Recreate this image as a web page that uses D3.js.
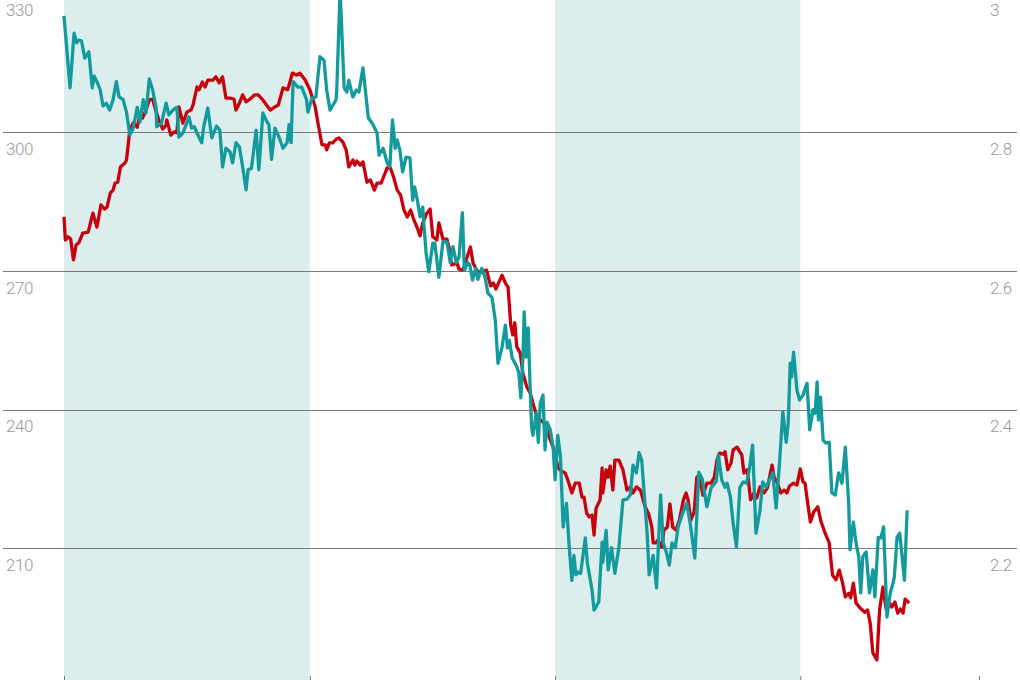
<!DOCTYPE html>
<html><head><meta charset="utf-8">
<script src="https://cdn.jsdelivr.net/npm/d3@7"></script>
<style>body{margin:0;background:#fff}svg{display:block}</style>
</head><body><svg id="chart" width="1020" height="680"></svg>
<script>
// x positions are day offsets from the series start date
const seriesStart = "2012-01-01";
const xDomain = ["2012-01-01", "2015-09-24"];
const xTickDates = ["2012-01-01", "2013-01-01", "2014-01-01", "2015-01-01", "2015-09-24"];
const bandPeriods = [["2012-01-01", "2013-01-01"], ["2014-01-01", "2015-01-01"]];
const leftTicks = [210, 240, 270, 300, 330];
const rightTicks = [2.2, 2.4, 2.6, 2.8, 3];

// red series, left axis: [day offset, value]
const redSeries = [[0,281.7],[2,276.7],[6,277.4],[10,276.9],[14,272.4],[18,275.6],[22,276.1],[28,278.2],[36,278.4],[43,282.5],[49,279.5],[55,284.3],[60,283.4],[64,283.8],[69,286.9],[73,287.5],[76,289.0],[80,289.2],[84,292.5],[91,293.4],[93,294.0],[98,300.5],[103,302.0],[109,301.1],[113,303.7],[117,303.1],[122,304.8],[127,307.0],[132,307.2],[135,305.5],[141,302.7],[147,300.7],[152,301.6],[153,302.7],[159,299.4],[164,300.1],[168,299.9],[171,305.5],[177,302.0],[183,304.4],[189,304.8],[192,305.9],[198,309.8],[201,309.2],[206,310.9],[210,309.8],[214,311.3],[222,311.3],[226,312.0],[231,310.7],[236,312.0],[241,307.4],[247,307.4],[253,307.2],[256,304.8],[261,306.3],[266,308.1],[271,306.6],[277,307.2],[284,308.1],[289,308.1],[296,307.0],[307,304.8],[314,305.5],[319,305.9],[326,309.6],[333,309.2],[340,312.8],[346,312.4],[351,312.8],[359,311.3],[366,309.2],[374,305.5],[378,302.0],[384,297.3],[389,297.3],[391,296.2],[395,297.7],[400,297.7],[405,298.5],[409,298.8],[415,297.9],[420,296.2],[424,292.5],[430,294.0],[433,292.9],[436,293.8],[441,292.9],[445,293.6],[451,289.2],[456,289.7],[462,287.5],[466,289.0],[472,289.0],[478,291.2],[481,292.3],[486,292.3],[491,290.1],[496,287.5],[501,286.4],[506,283.2],[511,281.7],[516,283.2],[521,281.0],[526,279.3],[530,277.6],[534,280.4],[540,282.5],[545,283.4],[549,277.4],[555,276.7],[558,280.4],[564,276.9],[570,276.9],[573,275.2],[577,271.3],[585,271.7],[588,270.4],[594,270.2],[600,273.0],[605,275.2],[609,271.7],[614,270.2],[619,269.6],[624,270.0],[629,270.2],[635,266.8],[639,267.4],[643,266.1],[652,269.1],[657,267.4],[661,266.5],[665,258.3],[668,256.2],[671,258.8],[674,253.6],[679,252.3],[683,247.9],[689,244.9],[694,243.6],[698,241.4],[704,238.4],[709,237.8],[715,237.1],[719,235.6],[724,233.4],[728,231.9],[732,229.8],[735,227.6],[738,227.0],[746,226.3],[750,224.8],[756,222.0],[761,224.1],[767,224.1],[771,221.1],[774,221.1],[778,217.6],[782,216.8],[786,217.2],[789,212.9],[792,218.7],[798,220.5],[801,227.4],[802,222.0],[807,227.0],[810,225.4],[813,227.8],[817,222.6],[820,229.1],[826,229.1],[832,227.0],[838,222.6],[843,223.3],[847,222.0],[852,223.3],[858,222.6],[865,219.0],[870,217.6],[875,214.6],[877,211.2],[881,211.2],[884,211.8],[890,210.3],[893,214.0],[898,214.6],[902,219.6],[906,214.6],[911,214.0],[916,216.1],[922,220.5],[926,222.0],[929,220.5],[933,216.1],[938,217.9],[942,225.4],[946,225.9],[951,221.5],[957,224.1],[963,224.1],[968,225.4],[972,229.1],[976,230.6],[981,230.4],[984,230.9],[988,227.0],[993,228.5],[996,231.3],[1002,231.9],[1005,231.1],[1009,230.2],[1012,226.3],[1017,227.0],[1022,220.5],[1027,222.0],[1031,220.9],[1036,223.3],[1042,222.0],[1047,223.1],[1054,228.0],[1057,225.4],[1062,224.1],[1067,222.0],[1072,222.6],[1076,222.0],[1080,223.5],[1086,224.1],[1091,223.7],[1096,227.2],[1100,224.4],[1103,224.1],[1107,219.8],[1111,215.7],[1116,217.9],[1122,219.0],[1127,215.7],[1133,213.3],[1139,211.2],[1144,204.2],[1149,203.2],[1154,205.3],[1159,202.5],[1163,199.5],[1168,200.3],[1171,199.3],[1175,202.5],[1179,198.2],[1185,197.1],[1192,196.2],[1196,196.7],[1200,193.9],[1204,187.4],[1210,185.9],[1214,196.7],[1219,201.6],[1224,196.7],[1229,198.2],[1232,197.3],[1237,198.4],[1241,196.0],[1245,196.9],[1249,196.0],[1252,199.0],[1258,198.2]];

// teal series, right axis: [day offset, value]
const tealSeries = [[0,2.968],[9,2.864],[15,2.943],[19,2.929],[22,2.933],[26,2.932],[31,2.907],[37,2.916],[42,2.864],[45,2.881],[49,2.873],[54,2.861],[58,2.838],[63,2.842],[68,2.832],[73,2.847],[78,2.873],[82,2.851],[88,2.847],[93,2.829],[98,2.796],[103,2.806],[109,2.836],[113,2.815],[118,2.847],[122,2.828],[127,2.877],[132,2.861],[137,2.836],[138,2.808],[145,2.813],[152,2.842],[156,2.825],[162,2.832],[168,2.836],[171,2.793],[177,2.799],[186,2.822],[190,2.806],[194,2.808],[198,2.799],[205,2.785],[208,2.808],[214,2.835],[220,2.792],[227,2.809],[232,2.803],[236,2.750],[241,2.777],[247,2.772],[251,2.756],[256,2.785],[261,2.779],[266,2.750],[271,2.717],[274,2.746],[279,2.748],[286,2.803],[290,2.746],[296,2.828],[302,2.815],[305,2.811],[309,2.761],[314,2.806],[320,2.793],[326,2.777],[332,2.785],[335,2.811],[338,2.785],[341,2.873],[348,2.865],[354,2.865],[361,2.847],[363,2.829],[369,2.849],[375,2.851],[381,2.909],[387,2.904],[391,2.861],[396,2.832],[405,2.847],[406,2.861],[411,3.005],[417,2.864],[421,2.858],[424,2.875],[430,2.851],[435,2.861],[439,2.858],[445,2.893],[453,2.821],[460,2.811],[466,2.799],[469,2.767],[475,2.777],[481,2.756],[485,2.750],[489,2.818],[493,2.777],[496,2.789],[500,2.774],[504,2.743],[509,2.764],[515,2.763],[519,2.702],[522,2.721],[526,2.702],[530,2.678],[534,2.692],[536,2.663],[539,2.626],[543,2.599],[549,2.640],[552,2.640],[558,2.591],[564,2.642],[570,2.642],[575,2.612],[579,2.635],[584,2.612],[588,2.620],[593,2.684],[596,2.601],[601,2.612],[604,2.609],[608,2.587],[613,2.604],[616,2.588],[622,2.604],[627,2.590],[631,2.568],[637,2.562],[642,2.529],[646,2.467],[652,2.490],[657,2.522],[660,2.489],[663,2.500],[667,2.475],[674,2.462],[677,2.453],[680,2.417],[683,2.472],[685,2.541],[688,2.476],[691,2.518],[694,2.428],[696,2.375],[698,2.363],[703,2.395],[706,2.353],[709,2.410],[713,2.421],[716,2.342],[719,2.382],[724,2.371],[728,2.346],[731,2.299],[735,2.363],[739,2.332],[743,2.231],[748,2.265],[752,2.202],[756,2.154],[759,2.190],[762,2.162],[765,2.166],[769,2.164],[776,2.215],[779,2.179],[786,2.140],[789,2.111],[796,2.123],[801,2.209],[802,2.180],[807,2.226],[810,2.169],[815,2.201],[820,2.164],[826,2.202],[832,2.270],[838,2.271],[843,2.277],[847,2.320],[852,2.309],[856,2.338],[860,2.327],[864,2.274],[868,2.222],[871,2.162],[877,2.190],[882,2.143],[888,2.277],[892,2.208],[897,2.193],[901,2.176],[905,2.208],[910,2.201],[914,2.231],[921,2.251],[927,2.265],[932,2.237],[939,2.186],[945,2.310],[950,2.300],[957,2.260],[963,2.287],[971,2.297],[974,2.335],[979,2.299],[984,2.288],[987,2.294],[992,2.274],[996,2.237],[1001,2.202],[1006,2.288],[1011,2.296],[1016,2.294],[1020,2.313],[1025,2.349],[1030,2.222],[1036,2.255],[1040,2.296],[1045,2.288],[1050,2.299],[1055,2.309],[1060,2.258],[1065,2.323],[1070,2.397],[1075,2.353],[1078,2.381],[1081,2.467],[1083,2.447],[1086,2.483],[1091,2.428],[1095,2.414],[1100,2.421],[1106,2.438],[1110,2.371],[1115,2.400],[1118,2.395],[1121,2.440],[1123,2.385],[1126,2.418],[1130,2.356],[1134,2.352],[1139,2.353],[1143,2.280],[1148,2.277],[1153,2.309],[1158,2.294],[1163,2.346],[1168,2.265],[1170,2.198],[1175,2.238],[1179,2.208],[1183,2.188],[1186,2.136],[1189,2.188],[1194,2.195],[1199,2.136],[1204,2.169],[1207,2.130],[1212,2.216],[1216,2.215],[1220,2.231],[1225,2.101],[1230,2.136],[1234,2.150],[1236,2.159],[1240,2.216],[1244,2.222],[1251,2.154],[1255,2.255]];

const W = 1020, H = 680;
const DAY = 86400000;
const t0 = new Date(seriesStart).getTime();
const toDate = d => new Date(t0 + d * DAY);

const svg = d3.select("#chart");

const x = d3.scaleUtc()
  .domain(xDomain.map(s => new Date(s)))
  .range([64, 979]);
const yLeft = d3.scaleLinear().domain([210, 330]).range([548.4, -6.4]);
const yRight = d3.scaleLinear().domain([2.2, 3]).range([548.4, -6.4]);

// shaded periods
svg.append("g").selectAll("rect")
  .data(bandPeriods)
  .join("rect")
  .attr("x", d => x(new Date(d[0])))
  .attr("width", d => x(new Date(d[1])) - x(new Date(d[0])))
  .attr("y", 0)
  .attr("height", H)
  .attr("fill", "#dbeded");

// gridlines
svg.append("g").selectAll("line")
  .data(leftTicks)
  .join("line")
  .attr("x1", 3).attr("x2", 1017)
  .attr("y1", d => Math.round(yLeft(d)) + 0.5)
  .attr("y2", d => Math.round(yLeft(d)) + 0.5)
  .attr("stroke", "#7a7a7a")
  .attr("stroke-width", 1);

const labelFont = "Roboto, 'Open Sans', sans-serif";

// left axis labels
svg.append("g").selectAll("text")
  .data(leftTicks)
  .join("text")
  .attr("x", 6)
  .attr("y", d => yLeft(d) + 22.5)
  .attr("font-family", labelFont)
  .attr("font-weight", 300)
  .attr("font-size", 17)
  .attr("letter-spacing", -0.4)
  .attr("fill", "#999")
  .text(d => d3.format("d")(d));

// right axis labels
svg.append("g").selectAll("text")
  .data(rightTicks)
  .join("text")
  .attr("x", 990)
  .attr("y", d => yRight(d) + 22.5)
  .attr("font-family", labelFont)
  .attr("font-weight", 300)
  .attr("font-size", 17)
  .attr("letter-spacing", -0.4)
  .attr("fill", "#999")
  .text(d => d3.format("~g")(d));

// bottom ticks
const xAxis = d3.axisBottom(x)
  .tickValues(xTickDates.map(s => new Date(s)))
  .tickSize(-4)
  .tickFormat("");
const gx = svg.append("g").attr("transform", `translate(0,${H})`).call(xAxis);
gx.select(".domain").remove();
gx.selectAll(".tick line").attr("stroke", "#777");

// lines
const redLine = d3.line()
  .x(d => x(toDate(d[0])))
  .y(d => yLeft(d[1]));
const tealLine = d3.line()
  .x(d => x(toDate(d[0])))
  .y(d => yRight(d[1]));

svg.append("path")
  .datum(redSeries)
  .attr("d", redLine)
  .attr("fill", "none")
  .attr("stroke", "#c8000b")
  .attr("stroke-width", 3.3)
  .attr("stroke-linejoin", "round");

svg.append("path")
  .datum(tealSeries)
  .attr("d", tealLine)
  .attr("fill", "none")
  .attr("stroke", "#139a9c")
  .attr("stroke-width", 3.3)
  .attr("stroke-linejoin", "round");
</script>
</body></html>
